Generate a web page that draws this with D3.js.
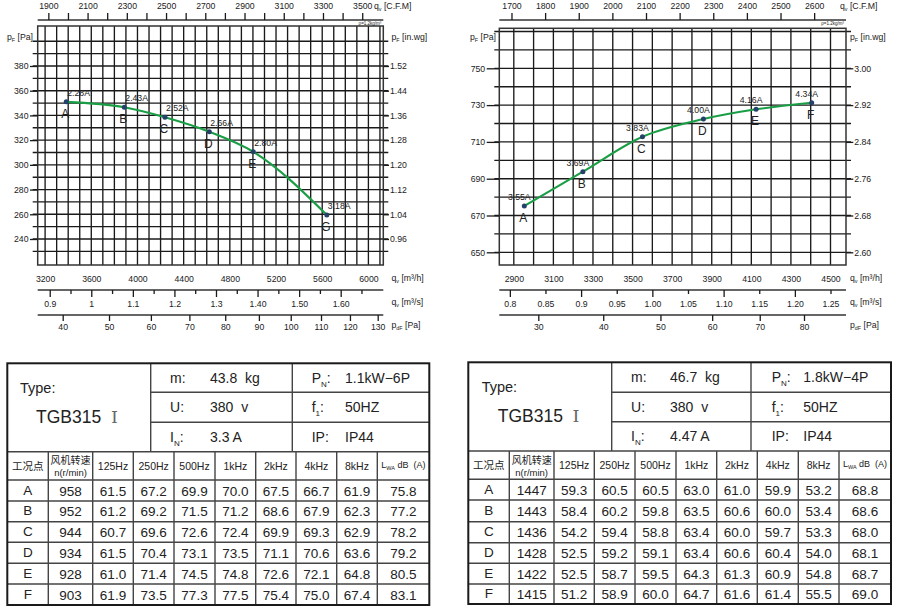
<!DOCTYPE html>
<html><head><meta charset="utf-8">
<script src="https://cdn.jsdelivr.net/npm/d3@7/dist/d3.min.js"></script>
<style>
body{margin:0;background:#fff;}
svg{display:block;}
text{white-space:pre;}
</style></head><body>
<svg id="c" width="901" height="611"></svg>
<script>
// ---------------- LEFT CHART DATA ----------------
const pointNamesL = ["A","B","C","D","E","G"];
const flowL   = [3383, 3886, 4238, 4622, 5003, 5640];          // q_v [m3/h]
const pressL  = [351.0, 346.6, 338.5, 326.8, 310.6, 259.4];    // p_F [Pa]
const ampsL   = ["2.28A","2.43A","2.52A","2.66A","2.80A","3.18A"];
const paTicksL   = [240,260,280,300,320,340,360,380];
const inwgTicksL = ["0.96","1.04","1.12","1.20","1.28","1.36","1.44","1.52"];
const gridPaL    = [230,240,250,260,270,280,290,300,310,320,330,340,350,360,370,380,390,400];
const gridFlowL  = [3200,3300,3400,3500,3600,3700,3800,3900,4000,4100,4200,4300,4400,4500,4600,4700,4800,4900,5000,5100,5200,5300,5400,5500,5600,5700,5800,5900,6000,6100];
const m3hTicksL  = [3200,3600,4000,4400,4800,5200,5600,6000];
const cfmTicksL  = [1900,2000,2100,2200,2300,2400,2500,2600,2700,2800,2900,3000,3100,3200,3300,3400,3500];
const cfmLabelsL = [1900,2100,2300,2500,2700,2900,3100,3300,3500];
const m3sMajorL  = [0.9,1.0,1.1,1.2,1.3,1.4,1.5,1.6];
const m3sMajorLabelsL = ["0.9","1","1.1","1.2","1.3","1.40","1.50","1.60"];
const m3sMinorL  = [0.95,1.05,1.15,1.25,1.35,1.45,1.55,1.65];
const pdTicksL   = [40,50,60,70,80,90,100,110,120,130];

// ---------------- RIGHT CHART DATA ----------------
const pointNamesR = ["A","B","C","D","E","F"];
const flowR   = [2953, 3249, 3550, 3858, 4124, 4405];
const pressR  = [675.2, 693.8, 712.8, 722.4, 727.7, 731.3];
const ampsR   = ["3.55A","3.69A","3.83A","4.00A","4.16A","4.34A"];
const paTicksR   = [650,670,690,710,730,750];
const inwgTicksR = ["2.60","2.68","2.76","2.84","2.92","3.00"];
const gridPaR    = [650,660,670,680,690,700,710,720,730,740,750,760,770];
const gridFlowR  = [2900,3000,3100,3200,3300,3400,3500,3600,3700,3800,3900,4000,4100,4200,4300,4400,4500];
const m3hTicksR  = [2900,3100,3300,3500,3700,3900,4100,4300,4500];
const cfmTicksR  = [1700,1800,1900,2000,2100,2200,2300,2400,2500,2600];
const cfmLabelsR = [1700,1800,1900,2000,2100,2200,2300,2400,2500,2600];
const m3sMajorR  = [0.8,0.9,1.0,1.1,1.2];
const m3sMajorLabelsR = ["0.8","0.9","1.00","1.10","1.20"];
const m3sMinorR  = [0.85,0.95,1.05,1.15,1.25];
const m3sMinorLabelsR = ["0.85","0.95","1.05","1.15","1.25"];
const pdTicksR   = [30,40,50,60,70,80];

// ---------------- TABLE DATA ----------------
const freqHeaders = ["125Hz","250Hz","500Hz","1kHz","2kHz","4kHz","8kHz"];
const rowNames = ["A","B","C","D","E","F"];
const speedL = [958,952,944,934,928,903];
const bandsL = [
  ["61.5","67.2","69.9","70.0","67.5","66.7","61.9"],
  ["61.2","69.2","71.5","71.2","68.6","67.9","62.3"],
  ["60.7","69.6","72.6","72.4","69.9","69.3","62.9"],
  ["61.5","70.4","73.1","73.5","71.1","70.6","63.6"],
  ["61.0","71.4","74.5","74.8","72.6","72.1","64.8"],
  ["61.9","73.5","77.3","77.5","75.4","75.0","67.4"]];
const lwaL = ["75.8","77.2","78.2","79.2","80.5","83.1"];
const specL = {type:"TGB315", m:"43.8  kg", U:"380  v", I:"3.3 A", P:"1.1kW\u22126P", f:"50HZ", IP:"IP44"};

const speedR = [1447,1443,1436,1428,1422,1415];
const bandsR = [
  ["59.3","60.5","60.5","63.0","61.0","59.9","53.2"],
  ["58.4","60.2","59.8","63.5","60.6","60.0","53.4"],
  ["54.2","59.4","58.8","63.4","60.0","59.7","53.3"],
  ["52.5","59.2","59.1","63.4","60.6","60.4","54.0"],
  ["52.5","58.7","59.5","64.3","61.3","60.9","54.8"],
  ["51.2","58.9","60.0","64.7","61.6","61.4","55.5"]];
const lwaR = ["68.8","68.6","68.0","68.1","68.7","69.0"];
const specR = {type:"TGB315", m:"46.7  kg", U:"380  v", I:"4.47 A", P:"1.8kW\u22124P", f:"50HZ", IP:"IP44"};

// ---------------- DRAWING ----------------
const FONT = '"Liberation Sans", Arial, Helvetica, sans-serif';
const CJK = '"Noto Sans CJK SC", "Liberation Sans", sans-serif';
const INK = "#222";
const GRID = "#1a1a1a";
const M3H_PER_CFM = 1.699;
const svg = d3.select("#c");

function sub(g, x, y, main, s, rest, size, anchor) {
  const t = g.append("text").attr("x", x).attr("y", y).attr("font-family", FONT)
    .attr("font-size", size).attr("fill", INK).attr("text-anchor", anchor || "start");
  t.append("tspan").text(main);
  t.append("tspan").attr("font-size", size * 0.62).attr("dy", size * 0.25).text(s);
  t.append("tspan").attr("dy", -size * 0.25).text(rest);
  return t;
}

function styleAxis(a, size) {
  a.select(".domain").remove();
  a.attr("font-family", FONT).attr("font-size", size || 8.7);
  a.selectAll("text").attr("fill", INK);
  a.selectAll("line").attr("stroke", GRID).attr("stroke-width", 1.3);
}

function chart(o) {
  const g = svg.append("g");
  const x = o.x, y = o.y, b = o.box;
  // grid
  g.append("g").selectAll("line").data(o.gridFlow).join("line")
    .attr("x1", d => x(d)).attr("x2", d => x(d)).attr("y1", b.t).attr("y2", b.b)
    .attr("stroke", GRID).attr("stroke-width", 1.35);
  g.append("g").selectAll("line").data(o.gridPa).join("line")
    .attr("x1", b.l - 5).attr("x2", b.r + 5).attr("y1", d => y(d)).attr("y2", d => y(d))
    .attr("stroke", GRID).attr("stroke-width", 1.35);
  g.append("rect").attr("x", b.l).attr("y", b.t).attr("width", b.r - b.l).attr("height", b.b - b.t)
    .attr("fill", "none").attr("stroke", "#333").attr("stroke-width", 1.5);

  // left / right pressure axes
  const ya = g.append("g").attr("transform", `translate(${b.l},0)`)
    .call(d3.axisLeft(y).tickValues(o.paTicks).tickSize(o.tickL).tickPadding(1.5).tickFormat(d3.format("d")));
  styleAxis(ya);
  const yb = g.append("g").attr("transform", `translate(${b.r},0)`)
    .call(d3.axisRight(y).tickValues(o.paTicks).tickSize(o.tickR).tickPadding(1).tickFormat((d, i) => o.inwg[i]));
  styleAxis(yb);

  // top CFM axis
  const xc = d3.scaleLinear().domain(x.domain().map(v => v / M3H_PER_CFM)).range(x.range());
  g.append("line").attr("x1", b.l).attr("x2", b.r).attr("y1", 20).attr("y2", 20)
    .attr("stroke", "#333").attr("stroke-width", 1.4);
  const ta = g.append("g").attr("transform", "translate(0,20)")
    .call(d3.axisTop(xc).tickValues(o.cfmTicks).tickSize(7).tickPadding(4)
      .tickFormat(d => o.cfmLabels.includes(d) ? d : ""));
  styleAxis(ta);
  g.append("text").attr("x", b.r - 2).attr("y", 25).attr("text-anchor", "end")
    .attr("font-family", FONT).attr("font-size", 4.5).attr("fill", INK).text("\u03c1=1.2kg/m\u00b3");

  // m3/h labels under the grid
  const ba = g.append("g").attr("transform", `translate(0,${b.b})`)
    .call(d3.axisBottom(x).tickValues(o.m3hTicks).tickSize(0).tickFormat(d3.format("d")));
  styleAxis(ba);
  ba.selectAll("text").attr("y", 17).attr("dy", 0);

  // m3/s axis
  const xs = d3.scaleLinear().domain(x.domain().map(v => v / 3600)).range(x.range());
  g.append("line").attr("x1", b.l).attr("x2", b.r).attr("y1", 290).attr("y2", 290)
    .attr("stroke", "#333").attr("stroke-width", 1.4);
  const sa = g.append("g").attr("transform", "translate(0,290)")
    .call(d3.axisBottom(xs).tickValues(o.m3sMajor).tickSize(7).tickFormat((d, i) => o.m3sMajorLabels[i]));
  styleAxis(sa);
  sa.selectAll("text").attr("y", 17).attr("dy", 0);
  const sb = g.append("g").attr("transform", "translate(0,290)")
    .call(d3.axisBottom(xs).tickValues(o.m3sMinor).tickSize(4).tickFormat((d, i) => o.m3sMinorLabels ? o.m3sMinorLabels[i] : ""));
  styleAxis(sb);
  sb.selectAll("text").attr("y", 17).attr("dy", 0);

  // dynamic pressure axis (p_dF proportional to q^2)
  g.append("line").attr("x1", b.l).attr("x2", b.r).attr("y1", 315).attr("y2", 315)
    .attr("stroke", "#333").attr("stroke-width", 1.4);
  const pa = g.append("g").attr("transform", "translate(0,315)")
    .call(d3.axisBottom(o.pd).tickValues(o.pdTicks).tickSize(6).tickFormat(d3.format("d")));
  styleAxis(pa);
  pa.selectAll("text").attr("y", 15).attr("dy", 0);

  // axis titles
  const tx = o.titleX;
  sub(g, o.cfmTitleX, 9, "q", "v", " [C.F.M]", 8.7);
  sub(g, o.paTitleX, 40, "p", "F", " [Pa]", 8.7);
  sub(g, tx, 40, "p", "F", " [in.wg]", 8.7);
  sub(g, tx, 281, "q", "v", " [m\u00b3/h]", 8.7);
  sub(g, tx, 305, "q", "v", " [m\u00b3/s]", 8.7);
  sub(g, tx, 328, "p", "dF", " [Pa]", 8.7);

  // curve
  const pts = o.flow.map((q, i) => ({q, p: o.press[i], a: o.amps[i], n: o.names[i]}));
  g.append("path").datum(pts)
    .attr("d", d3.line().x(d => x(d.q)).y(d => y(d.p)).curve(d3.curveMonotoneX))
    .attr("fill", "none").attr("stroke", "#1a9e45").attr("stroke-width", 2.1);
  g.append("g").selectAll("circle").data(pts).join("circle")
    .attr("cx", d => x(d.q)).attr("cy", d => y(d.p)).attr("r", 2.5).attr("fill", "#24406b");
  g.append("g").selectAll("text").data(pts).join("text")
    .attr("x", d => x(d.q) + o.ampDx).attr("y", d => y(d.p) - 6)
    .attr("text-anchor", o.ampAnchor)
    .attr("font-family", FONT).attr("font-size", 8.7).attr("fill", INK).text(d => d.a);
  g.append("g").selectAll("text").data(pts).join("text")
    .attr("x", d => x(d.q) - 1).attr("y", d => y(d.p) + 16).attr("text-anchor", "middle")
    .attr("font-family", FONT).attr("font-size", 12).attr("fill", INK).text(d => d.n);
}

chart({
  x: d3.scaleLinear().domain([3200, 6000]).range([45.1, 368.4]),
  y: d3.scaleLinear().domain([240, 380]).range([239, 66]),
  pd: d3.scaleSqrt().domain([40, 130]).range([62.7, 377.7]),
  box: {l: 37.7, r: 383.3, t: 26, b: 265},
  gridFlow: gridFlowL, gridPa: gridPaL, paTicks: paTicksL, inwg: inwgTicksL,
  tickL: 7.7, tickR: 5.7,
  cfmTicks: cfmTicksL, cfmLabels: cfmLabelsL, m3hTicks: m3hTicksL,
  m3sMajor: m3sMajorL, m3sMajorLabels: m3sMajorLabelsL, m3sMinor: m3sMinorL, m3sMinorLabels: null,
  pdTicks: pdTicksL,
  titleX: 391.5, cfmTitleX: 374, paTitleX: 7,
  flow: flowL, press: pressL, amps: ampsL, names: pointNamesL,
  ampDx: 1, ampAnchor: "start"
});

chart({
  x: d3.scaleLinear().domain([2900, 4500]).range([513.8, 830.5]),
  y: d3.scaleLinear().domain([650, 750]).range([252.3, 68.3]),
  pd: d3.scaleSqrt().domain([30, 80]).range([538.3, 804]),
  box: {l: 499.3, r: 846, t: 28.3, b: 265},
  gridFlow: gridFlowR, gridPa: gridPaR, paTicks: paTicksR, inwg: inwgTicksR,
  tickL: 12.6, tickR: 7.3,
  cfmTicks: cfmTicksR, cfmLabels: cfmLabelsR, m3hTicks: m3hTicksR,
  m3sMajor: m3sMajorR, m3sMajorLabels: m3sMajorLabelsR, m3sMinor: m3sMinorR, m3sMinorLabels: m3sMinorLabelsR,
  pdTicks: pdTicksR,
  titleX: 850, cfmTitleX: 840, paTitleX: 470,
  flow: flowR, press: pressR, amps: ampsR, names: pointNamesR,
  ampDx: -5, ampAnchor: "middle"
});

// ---------------- TABLES ----------------
function table(t) {
  const g = svg.append("g").attr("font-family", FONT).attr("fill", INK);
  const C = t.cols, R = t.rows;
  const L = C[0], Rt = C[C.length - 1];
  const thin = (x1, y1, x2, y2) => g.append("line").attr("x1", x1).attr("y1", y1).attr("x2", x2).attr("y2", y2)
    .attr("stroke", "#444").attr("stroke-width", 1.4);
  // upper block
  thin(t.div1, t.top, t.div1, t.hdr);
  thin(t.div2, t.top, t.div2, t.hdr);
  t.upRows.forEach(yv => thin(t.div1, yv, Rt, yv));
  thin(L, t.hdr, Rt, t.hdr);
  // lower grid
  C.slice(1, -1).forEach(xv => thin(xv, t.hdr, xv, R[R.length - 1]));
  R.slice(0, -1).forEach(yv => thin(L, yv, Rt, yv));
  g.append("rect").attr("x", L).attr("y", t.top).attr("width", Rt - L).attr("height", R[R.length - 1] - t.top)
    .attr("fill", "none").attr("stroke", "#1a1a1a").attr("stroke-width", 2);

  const s = t.spec;
  g.append("text").attr("x", t.typeX).attr("y", t.top + 30).attr("font-size", 14.5).text("Type:");
  const tg = g.append("text").attr("x", t.typeX + 16).attr("y", t.top + 60).attr("font-size", 17.5);
  tg.append("tspan").text(s.type + "  ");
  tg.append("tspan").attr("font-family", '"Liberation Serif","DejaVu Serif",serif').attr("fill", "#666").text("\u2160");

  const rowY = [t.top, t.upRows[0], t.upRows[1], t.hdr];
  const lab = (x, i, a, b2) => {
    const yy = (rowY[i] + rowY[i + 1]) / 2 + 5;
    const tx = g.append("text").attr("x", x).attr("y", yy).attr("font-size", 14);
    tx.append("tspan").text(a);
    if (b2) { tx.append("tspan").attr("font-size", 8).attr("dy", 4).text(b2); tx.append("tspan").attr("dy", -4).text(":"); }
    else tx.append("tspan").text(":");
  };
  lab(t.lab1, 0, "m"); lab(t.lab1, 1, "U"); lab(t.lab1, 2, "I", "N");
  lab(t.lab2, 0, "P", "N"); lab(t.lab2, 1, "f", "1"); lab(t.lab2, 2, "IP");
  const val = (x, i, v) => g.append("text").attr("x", x).attr("y", (rowY[i] + rowY[i + 1]) / 2 + 5).attr("font-size", 14).text(v);
  val(t.val1, 0, s.m); val(t.val1, 1, s.U); val(t.val1, 2, s.I);
  val(t.val2, 0, s.P); val(t.val2, 1, s.f); val(t.val2, 2, s.IP);

  // header row
  const hy = (t.hdr + R[0]) / 2;
  const cx = i => (C[i] + C[i + 1]) / 2;
  g.append("text").attr("x", cx(0)).attr("y", hy + 4).attr("text-anchor", "middle")
    .attr("font-family", CJK).attr("font-size", 10.5).text("工况点");
  g.append("text").attr("x", cx(1)).attr("y", hy - 1.5).attr("text-anchor", "middle")
    .attr("font-family", CJK).attr("font-size", 10).text("风机转速");
  g.append("text").attr("x", cx(1)).attr("y", hy + 10.5).attr("text-anchor", "middle")
    .attr("font-size", 9.5).text("n(r/min)");
  freqHeaders.forEach((h, i) => g.append("text").attr("x", cx(i + 2)).attr("y", hy + 4)
    .attr("text-anchor", "middle").attr("font-size", 10.5).text(h));
  const lw = g.append("text").attr("x", cx(9)).attr("y", hy + 2).attr("text-anchor", "middle").attr("font-size", 9);
  lw.append("tspan").text("L");
  lw.append("tspan").attr("font-size", 5.5).attr("dy", 2).text("WA");
  lw.append("tspan").attr("dy", -2).text(" dB  (A)");

  // data rows
  rowNames.forEach((n, r) => {
    const yy = (R[r] + R[r + 1]) / 2 + 5;
    const cells = [n, String(t.speed[r])].concat(t.bands[r], [t.lwa[r]]);
    cells.forEach((c, i) => g.append("text").attr("x", cx(i)).attr("y", i === 0 ? yy - 1 : yy)
      .attr("text-anchor", "middle").attr("font-size", 13.5).text(c));
  });
}

table({
  cols: [7.3, 48.3, 92.7, 133.3, 174, 215, 255.7, 296, 336.7, 377.3, 429.3],
  rows: [480, 501, 521.7, 542.3, 563.3, 584, 605],
  top: 363.3, hdr: 451.7, upRows: [392.3, 422.3], div1: 150.7, div2: 292.3,
  typeX: 20, lab1: 170, val1: 210, lab2: 311.7, val2: 345,
  spec: specL, speed: speedL, bands: bandsL, lwa: lwaL
});
table({
  cols: [468.3, 509.3, 554, 594.3, 635, 676, 716.7, 757.3, 798.3, 839, 891],
  rows: [479.3, 500, 521.7, 542.7, 563.3, 584, 604],
  top: 362.3, hdr: 451, upRows: [392.3, 421.7], div1: 611.7, div2: 751,
  typeX: 481.7, lab1: 631, val1: 670, lab2: 771.7, val2: 803.3,
  spec: specR, speed: speedR, bands: bandsR, lwa: lwaR
});
</script>
</body></html>
